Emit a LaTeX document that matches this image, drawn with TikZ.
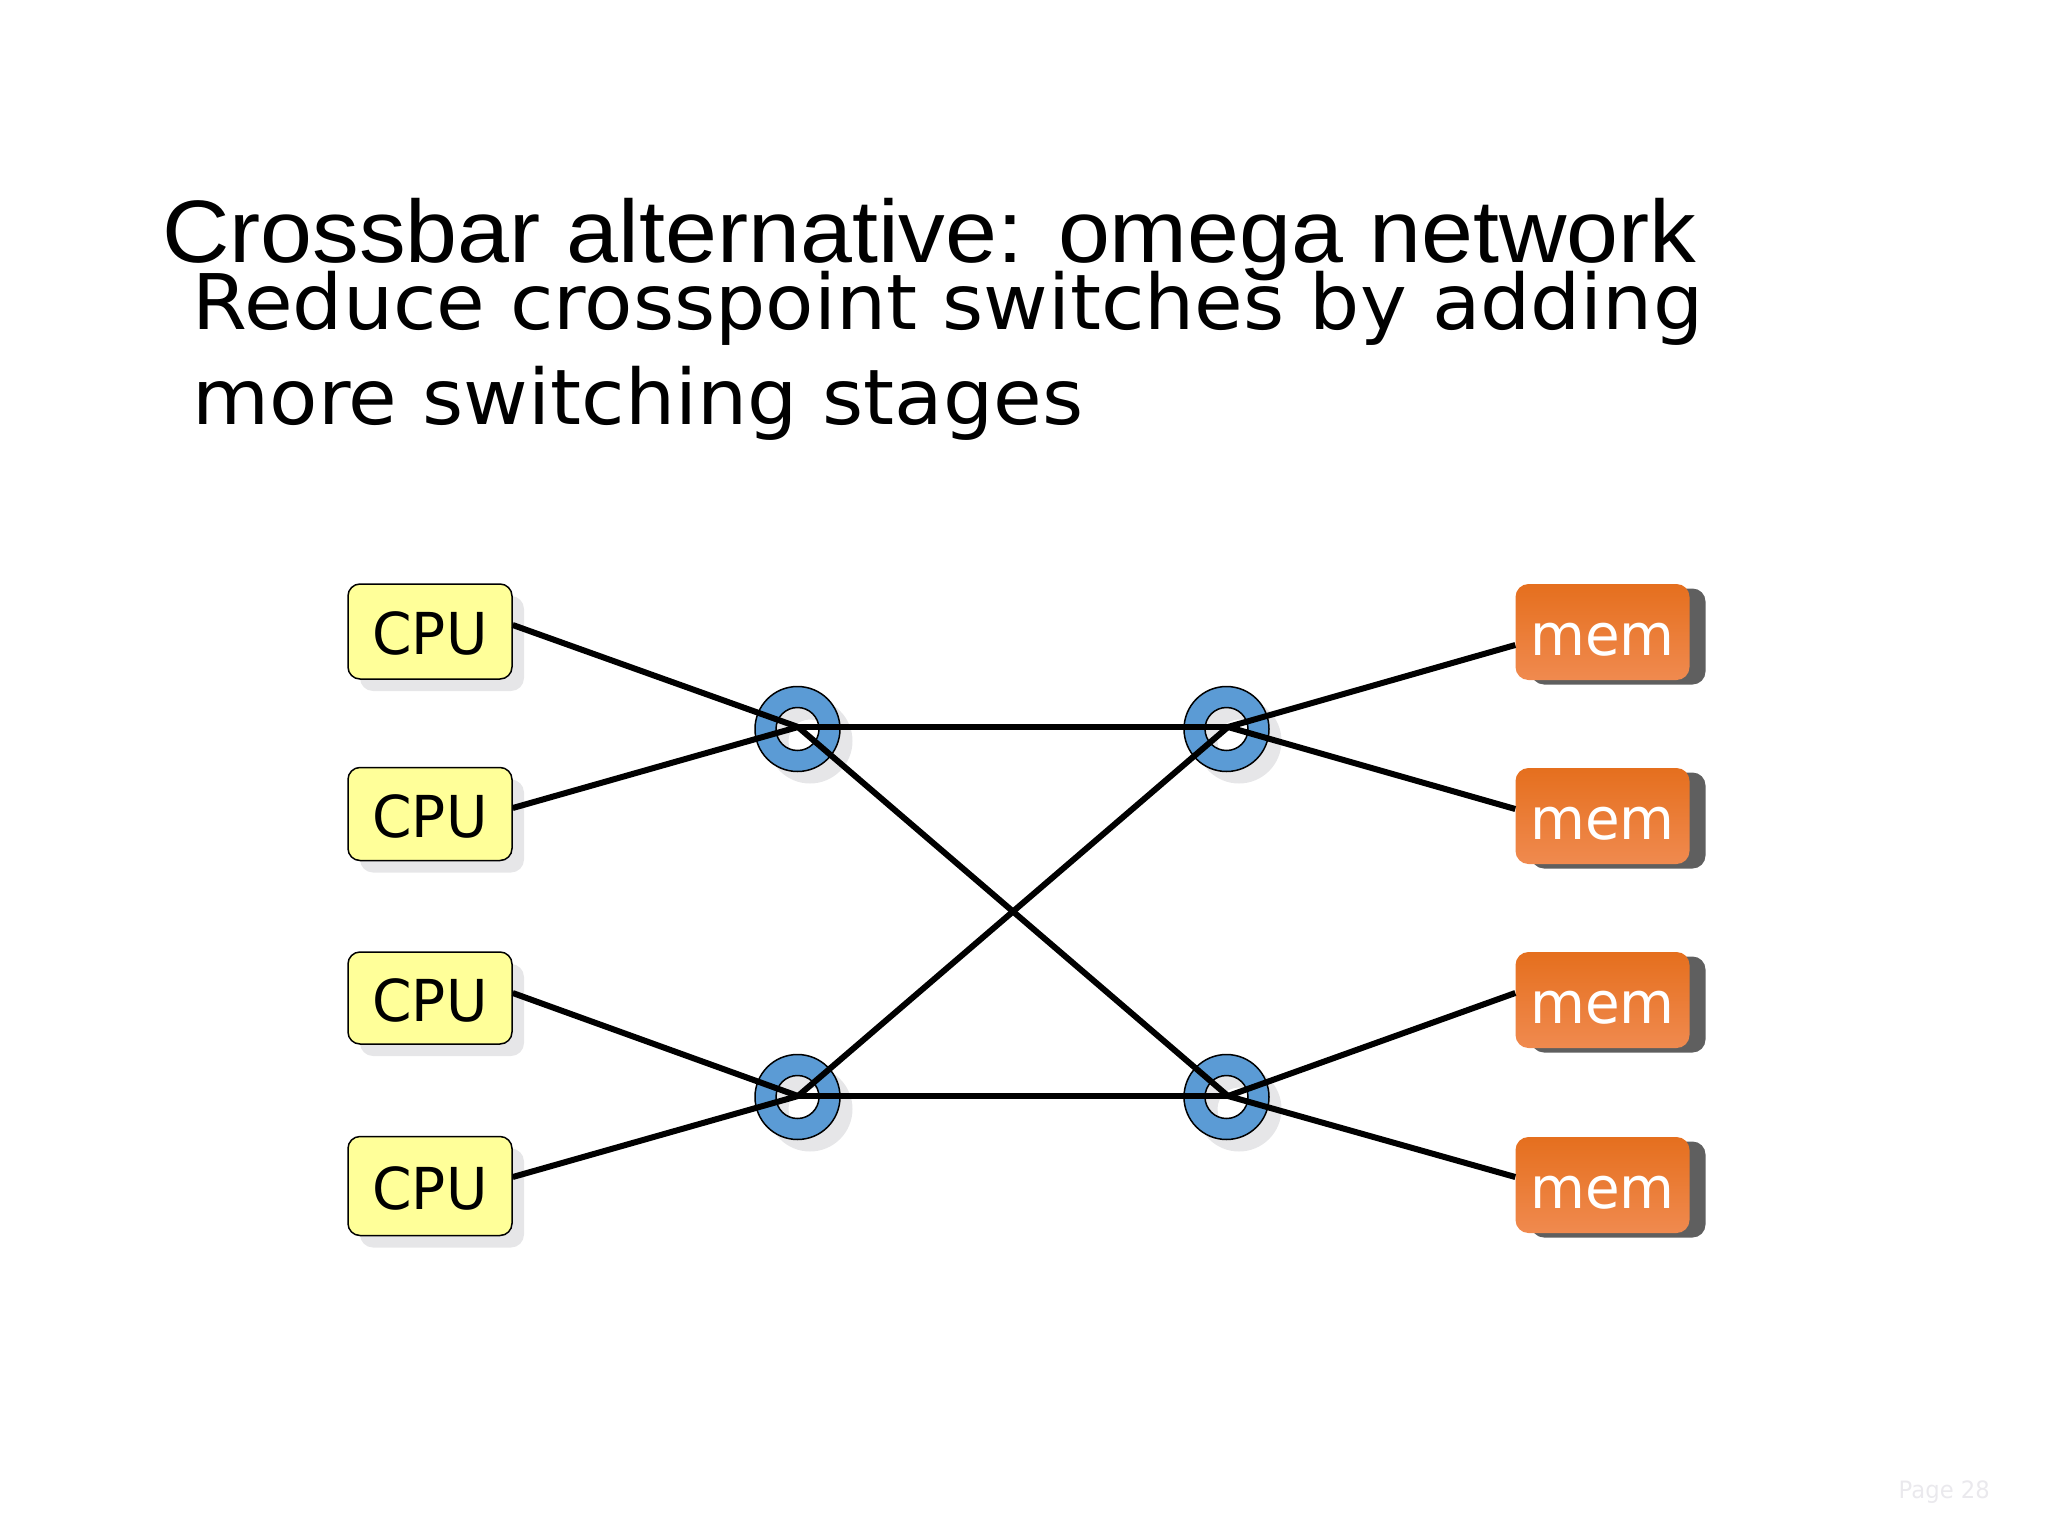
\documentclass[tikz,border=0pt]{standalone}
\usepackage{fontspec}
\setmainfont{DejaVu Sans}
\newfontfamily\titlefont{Liberation Sans}
\usetikzlibrary{calc}
\definecolor{cpufill}{HTML}{FFFF99}
\definecolor{memtop}{HTML}{E56F1E}
\definecolor{membot}{HTML}{F08A4F}
\definecolor{memshadow}{HTML}{5F5F5F}
\definecolor{softshadow}{HTML}{E6E6E8}
\definecolor{hubblue}{HTML}{5B9BD5}
\definecolor{pagegrey}{HTML}{EAE9ED}
\tikzset{
	px/.style={x=1bp,y=-1bp},
	cpu/.style={draw=black,line width=1.5bp,fill=cpufill,rounded corners=12bp,minimum width=164bp,inner sep=0pt,
		text height=46bp,text depth=0bp,font=\fontsize{58}{60}\selectfont},
	mem/.style={top color=memtop,bottom color=membot,rounded corners=13bp,minimum width=174bp,minimum height=96bp,inner sep=0pt,
		text=white,text height=46.5bp,text depth=0bp,font=\fontsize{58}{60}\selectfont},
	boxshadow/.style={fill=#1,rounded corners=13bp},
	ring/.style={draw=black,line width=1.5bp,fill=hubblue,even odd rule},
	wire/.style={line width=6bp,black},
	lead/.style={anchor=base west,inner sep=0pt},
}
\begin{document}
\begin{tikzpicture}[px]
\useasboundingbox (0,0) rectangle (2048,1536);
% title and body
\node[lead,font=\titlefont\fontsize{89}{89}\selectfont] (title) at (162,262) {\scalebox{1.053}[1]{Crossbar alternative: omega network}};
\node[lead,font=\fontsize{77}{77}\selectfont] (line1) at (192.5,329) {\scalebox{1.031}[1]{Reduce crosspoint switches by adding}};
\node[lead,font=\fontsize{77}{77}\selectfont] (line2) at (192.5,424) {\scalebox{1.031}[1]{more switching stages}};
% CPU boxes with soft shadow
\foreach \yc/\h/\n in {631.5/95/1,814/93/2,998/92/3,1186/99/4}{
	\fill[boxshadow=softshadow] (360,\yc-\h/2+12) rectangle ++(164,\h);
	\node[cpu,minimum height=\h bp] (c\n) at (430,\yc) {\scalebox{0.98}[1]{CPU}};
}
% memory boxes with dark shadow
\foreach \yc/\n in {632/1,816/2,1000/3,1185/4}{
	\fill[boxshadow=memshadow] (1531,\yc-48+4.5) rectangle ++(174.5,96);
	\node[mem] (m\n) at (1602.5,\yc) {\scalebox{0.975}[1]{mem}};
}
% switch points, shadow is a ring as well so the hole shows part of it
\foreach \x/\y/\n in {797.5/729/a,797.5/1097/b,1226.5/729/c,1226.5/1097/d}{
	\path[fill=softshadow,even odd rule] (\x+12.5,\y+12) circle[radius=42.5] (\x+12.5,\y+12) circle[radius=21.5];
	\path[ring] (\x,\y) circle[radius=42.5] (\x,\y) circle[radius=21.5];
}
\coordinate (pa) at (798,727);
\coordinate (pb) at (798,1096);
\coordinate (pc) at (1228,727);
\coordinate (pd) at (1228,1096);
% wire ends on the boxes
\coordinate (c1e) at ($(c1.east)+(0,-6.5)$);
\coordinate (c2e) at ($(c2.east)+(0,-6)$);
\coordinate (c3e) at ($(c3.east)+(0,-5)$);
\coordinate (c4e) at ($(c4.east)+(0,-9)$);
\coordinate (m1w) at ($(m1.west)+(0,13)$);
\coordinate (m2w) at ($(m2.west)+(0,-7)$);
\coordinate (m3w) at ($(m3.west)+(0,-7)$);
\coordinate (m4w) at ($(m4.west)+(0,-8)$);
% wires
\draw[wire] (c1e) -- (pa);
\draw[wire] (c2e) -- (pa);
\draw[wire] (c3e) -- (pb);
\draw[wire] (c4e) -- (pb);
\draw[wire] (pa) -- (pc);
\draw[wire] (pb) -- (pd);
\draw[wire] (pa) -- (pd);
\draw[wire] (pb) -- (pc);
\draw[wire] (pc) -- (m1w);
\draw[wire] (pc) -- (m2w);
\draw[wire] (pd) -- (m3w);
\draw[wire] (pd) -- (m4w);
\node[anchor=base east,inner sep=0pt,text=pagegrey,font=\fontsize{24}{24}\selectfont] (page) at (1990,1498) {\scalebox{0.95}[1]{Page 28}};
\end{tikzpicture}
\end{document}
